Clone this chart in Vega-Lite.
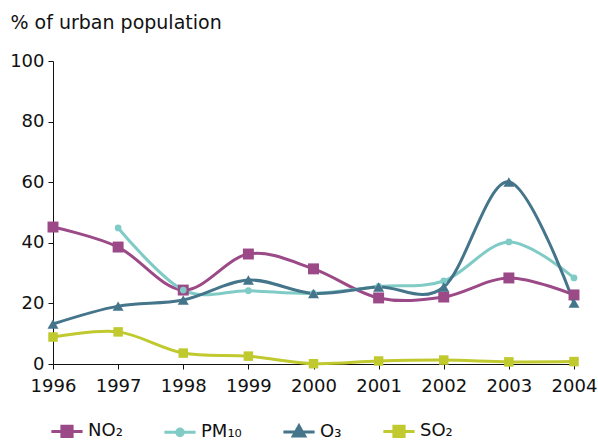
{
  "$schema": "https://vega.github.io/schema/vega-lite/v6.json",
  "width": 521,
  "height": 303,
  "autosize": "none",
  "padding": {"left": 53, "top": 61, "right": 24, "bottom": 77},
  "config": {
    "font": "DejaVu Sans",
    "view": {"stroke": null},
    "axis": {"labelFont": "DejaVu Sans", "titleFont": "DejaVu Sans", "labelColor": "#111", "titleColor": "#111", "domainColor": "#111", "tickColor": "#111", "labelFontSize": 18, "grid": false}
  },
  "data": {
    "values": [
      {"year": 1996, "s": "NO₂", "v": 45.2},
      {"year": 1997, "s": "NO₂", "v": 38.6},
      {"year": 1998, "s": "NO₂", "v": 24.4},
      {"year": 1999, "s": "NO₂", "v": 36.3},
      {"year": 2000, "s": "NO₂", "v": 31.4},
      {"year": 2001, "s": "NO₂", "v": 21.8},
      {"year": 2002, "s": "NO₂", "v": 22.1},
      {"year": 2003, "s": "NO₂", "v": 28.4},
      {"year": 2004, "s": "NO₂", "v": 22.8},
      {"year": 1997, "s": "PM₁₀", "v": 44.9},
      {"year": 1998, "s": "PM₁₀", "v": 24.4},
      {"year": 1999, "s": "PM₁₀", "v": 24.2},
      {"year": 2000, "s": "PM₁₀", "v": 23.3},
      {"year": 2001, "s": "PM₁₀", "v": 25.6},
      {"year": 2002, "s": "PM₁₀", "v": 27.4},
      {"year": 2003, "s": "PM₁₀", "v": 40.3},
      {"year": 2004, "s": "PM₁₀", "v": 28.4},
      {"year": 1996, "s": "O₃", "v": 13.2},
      {"year": 1997, "s": "O₃", "v": 19.1},
      {"year": 1998, "s": "O₃", "v": 21.1},
      {"year": 1999, "s": "O₃", "v": 27.7},
      {"year": 2000, "s": "O₃", "v": 23.3},
      {"year": 2001, "s": "O₃", "v": 25.4},
      {"year": 2002, "s": "O₃", "v": 25.4},
      {"year": 2003, "s": "O₃", "v": 60.1},
      {"year": 2004, "s": "O₃", "v": 20.1},
      {"year": 1996, "s": "SO₂", "v": 8.9},
      {"year": 1997, "s": "SO₂", "v": 10.6},
      {"year": 1998, "s": "SO₂", "v": 3.6},
      {"year": 1999, "s": "SO₂", "v": 2.6},
      {"year": 2000, "s": "SO₂", "v": 0.1},
      {"year": 2001, "s": "SO₂", "v": 1.0},
      {"year": 2002, "s": "SO₂", "v": 1.3},
      {"year": 2003, "s": "SO₂", "v": 0.7},
      {"year": 2004, "s": "SO₂", "v": 0.8}
    ]
  },
  "encoding": {
    "x": {
      "field": "year", "type": "quantitative",
      "scale": {"domain": [1996, 2004], "nice": false, "zero": false},
      "axis": {"values": [1996,1997,1998,1999,2000,2001,2002,2003,2004], "format": "d", "title": null, "tickSize": 5, "labelPadding": 8, "labelFlush": false}
    },
    "y": {
      "field": "v", "type": "quantitative",
      "scale": {"domain": [0, 100], "nice": false},
      "axis": {"values": [0,20,40,60,80,100], "tickSize": 5, "labelPadding": 4,
        "title": "% of urban population", "titleAngle": 0, "titleAlign": "left", "titleBaseline": "alphabetic",
        "titleX": -43, "titleY": -33, "titleFontSize": 19, "titleFontWeight": "normal"}
    },
    "color": {
      "field": "s", "type": "nominal",
      "scale": {"domain": ["NO₂", "PM₁₀", "O₃", "SO₂"], "range": ["#9b4a87", "#80cbc6", "#44758a", "#c0c92e"]},
      "legend": {
        "title": null, "orient": "none", "direction": "horizontal", "legendX": 5, "legendY": 361,
        "labelFontSize": 18, "labelColor": "#111", "labelFont": "DejaVu Sans",
        "symbolSize": 144, "labelOffset": 12, "columnPadding": 35, "symbolStrokeWidth": 3,
        "encode": {
          "symbols": {
            "update": {
              "shape": {"signal": "datum.value == 'PM₁₀' ? 'M-2.6,0H2.6M-0.55,0A0.55,0.55 0 1,0 0.55,0A0.55,0.55 0 1,0 -0.55,0' : datum.value == 'O₃' ? 'M-2.6,0H2.6M0,-1L0.95,0.7H-0.95Z' : 'M-2.6,0H2.6M-0.85,-0.85H0.85V0.85H-0.85Z'"},
              "size": {"value": 144},
              "strokeWidth": {"value": 3},
              "opacity": {"value": 1}
            }
          }
        }
      }
    }
  },
  "layer": [
    {
      "mark": {"type": "line", "interpolate": "cardinal", "strokeWidth": 3}
    },
    {
      "transform": [{"filter": {"field": "s", "equal": "NO₂"}}],
      "mark": {"type": "point", "filled": true, "opacity": 1, "shape": "square", "size": 120}
    },
    {
      "transform": [{"filter": {"field": "s", "equal": "PM₁₀"}}],
      "mark": {"type": "point", "filled": true, "opacity": 1, "shape": "circle", "size": 45}
    },
    {
      "transform": [{"filter": {"field": "s", "equal": "O₃"}}],
      "mark": {"type": "point", "filled": true, "opacity": 1, "shape": "triangle-up", "size": 120}
    },
    {
      "transform": [{"filter": {"field": "s", "equal": "SO₂"}}],
      "mark": {"type": "point", "filled": true, "opacity": 1, "shape": "square", "size": 90}
    }
  ]
}
